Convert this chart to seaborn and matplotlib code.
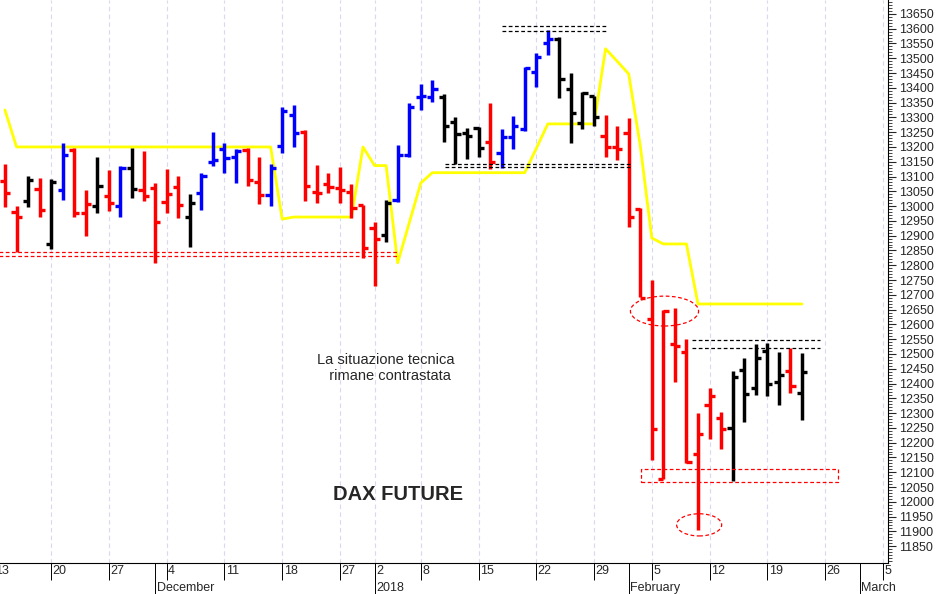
import numpy as np
import pandas as pd
import matplotlib
matplotlib.use("Agg")
import matplotlib.pyplot as plt
from matplotlib.patches import Ellipse, Rectangle
import seaborn as sns

sns.set_style("white")
plt.rcParams['font.family'] = ['Liberation Sans Narrow', 'Liberation Sans', 'DejaVu Sans']

# ---- data (trading days from 2017-11-14) ----
highs = [13143,13000,13102,13095,13092,13215,13197,13055,13166,13122,13136,13197,13186,13078,13125,13102,13041,13113,13251,13213,
         13193,13197,13167,13143,13335,13342,13258,13139,13112,13133,13075,13004,12947,13021,13207,13349,13413,13427,13379,13302,
         13264,13268,13350,13261,13305,13472,13519,13596,13573,13450,13387,13372,13308,13271,13298,12994,12750,12649,12656,12550,
         12300,12385,12305,12443,12486,12534,12537,12507,12520,12503]
lows = [12997,12846,12998,12964,12855,13021,12963,12899,12977,12985,12963,13027,13018,12808,12977,12960,12862,12987,13136,13113,
        13078,13068,13007,13000,13181,13200,13018,13011,13044,13012,12960,12824,12730,12880,13015,13167,13325,13353,13218,13143,
        13159,13166,13125,13130,13193,13255,13404,13511,13366,13213,13261,13271,13166,13156,12930,12694,12141,12077,12406,12131,
        11904,12212,12178,12069,12270,12361,12357,12327,12368,12277]
opens = [13086,12981,13018,13058,12872,13055,13190,12977,13000,13035,13000,13130,13055,13061,13015,13066,12964,13044,13150,13193,
         13167,13190,13080,13038,13203,13308,13249,13049,13075,13061,13049,13004,12926,12902,13021,13173,13370,13369,13370,13286,
         13247,13264,13218,13180,13234,13261,13455,13553,13565,13396,13280,13372,13237,13200,13247,12990,12618,12077,12534,12507,
         12161,12327,12283,12249,12446,12385,12511,12406,12443,12368]
closes = [13044,12963,13088,12987,13083,13173,12977,13007,13068,13012,13129,13058,13034,12947,13041,13004,13012,13102,13156,13163,
          13188,13088,13038,13129,13320,13247,13068,13045,13065,13055,12994,12858,12889,13012,13173,13335,13372,13396,13271,13244,
          13237,13197,13150,13234,13271,13467,13505,13565,13430,13316,13384,13302,13201,13193,12964,12690,12246,12645,12527,12135,
          12229,12357,12246,12422,12364,12486,12398,12429,12390,12440]
colors = list("rrkrkbrrkrbkrrrrkbbbbrrbbbrrrrrrrkbbbbkkkkrbbbbbkkkkrrrrrrrrrrrkkkkkrk")
stop_line = [13325] + [13200]*23 + [12956] + [12963]*6 + [13200, 13137, 13137, 12808, 12943, 13078] + [13113]*9 + \
            [13195] + [13278]*5 + [13532, 13490, 13447, 13205, 12892, 12872, 12872, 12872] + [12669]*10

week_labels = ["13","20","27","4","11","18","27","2","8","15","22","29","5","12","19","26","5"]
week_pos = [-1,4,9,14,19,24,29,32,36,41,46,51,56,61,66,71,76]
month_labels = ["December","2018","February","March"]
month_pos = [13,32,54,74]

cmap = {"r": "#ff0000", "b": "#0000ff", "k": "#000000"}

fig = plt.figure(figsize=(9.41, 5.94), dpi=100)
ax = fig.add_axes([0, 1-563/594, 888/941, 563/594])
xlim = (-0.43, 76.45)
ylim = (11793, 13697)

# grid
for p in week_pos:
    ax.axvline(p, color="#d8d8f0", lw=0.8, ls=(0, (4, 3)), zorder=0)

df = pd.DataFrame({"x": np.arange(len(stop_line)), "stop": stop_line})
sns.lineplot(data=df, x="x", y="stop", ax=ax, color="#ffff00", lw=2, zorder=2)

idx = np.arange(len(highs))
for i in idx:
    c = cmap[colors[i]]
    ax.vlines(i, lows[i], highs[i], color=c, lw=2.5, zorder=3)
    ax.hlines(opens[i], i-0.45, i, color=c, lw=2.4, zorder=3)
    ax.hlines(closes[i], i, i+0.45, color=c, lw=2.4, zorder=3)

# support/resistance annotations
def dl(y, x0, x1, c):
    ax.hlines(y, x0, x1, color=c, lw=0.9, ls=(0, (3, 2)), zorder=4)
dl(12846, -1, 34, "#ff0000"); dl(12832, -1, 34, "#ff0000")
dl(13610, 43, 52, "black"); dl(13593, 43, 52, "black")
dl(13143, 38.1, 54.1, "black"); dl(13131, 38.1, 54.1, "black")
dl(12547, 59.5, 70.6, "black"); dl(12519, 59.5, 70.6, "black")
ax.add_patch(Rectangle((55.1, 12067), 17, 43, fill=False, ec="#ff0000", lw=0.9, ls=(0, (3, 2)), zorder=4))
ax.add_patch(Ellipse((57.1, 12645), 5.9, 101, fill=False, ec="#ff0000", lw=0.9, ls=(0, (3, 2)), zorder=4))
ax.add_patch(Ellipse((60.1, 11922), 3.9, 75, fill=False, ec="#ff0000", lw=0.9, ls=(0, (3, 2)), zorder=4))

ax.text(33.0, 12452, "La situazione tecnica\n  rimane contrastata", ha="center", va="center",
        fontsize=10.5, family=["Liberation Sans", "DejaVu Sans"], linespacing=1.2)
ax.text(34.0, 12026, "DAX FUTURE", ha="center", va="center", fontsize=14.5, fontweight="bold",
        family=["Liberation Sans", "DejaVu Sans"])

ax.set_xlim(*xlim)
ax.set_ylim(*ylim)
ax.set_xticks([])
ax.set_xlabel(""); ax.set_ylabel("")
ax.yaxis.tick_right()
ax.set_yticks(np.arange(11850, 13651, 50))
ax.set_yticks(np.arange(11800, 13700, 10), minor=True)
ax.tick_params(axis="y", which="major", length=6, width=0.8, labelsize=9, pad=2, right=True, left=False)
ax.tick_params(axis="y", which="minor", length=3, width=0.6, right=True, left=False)
for s in ["top", "left"]:
    ax.spines[s].set_visible(False)
ax.spines["right"].set_color("black")
ax.spines["bottom"].set_color("black")

# date strip
ax2 = fig.add_axes([0, 0, 888/941, 31/594])
ax2.set_xlim(*xlim); ax2.set_ylim(0, 1)
ax2.axis("off")
for p, l in zip(week_pos, week_labels):
    ax2.vlines(p, 0.45, 1, color="black", lw=0.7)
    ax2.text(p + 0.12, 0.73, l, ha="left", va="center", fontsize=9)
for p, l in zip(month_pos, month_labels):
    ax2.vlines(p, 0, 1, color="black", lw=0.7)
    ax2.text(p + 0.12, 0.2, l, ha="left", va="center", fontsize=9)

fig.savefig("out.png", dpi=100)
